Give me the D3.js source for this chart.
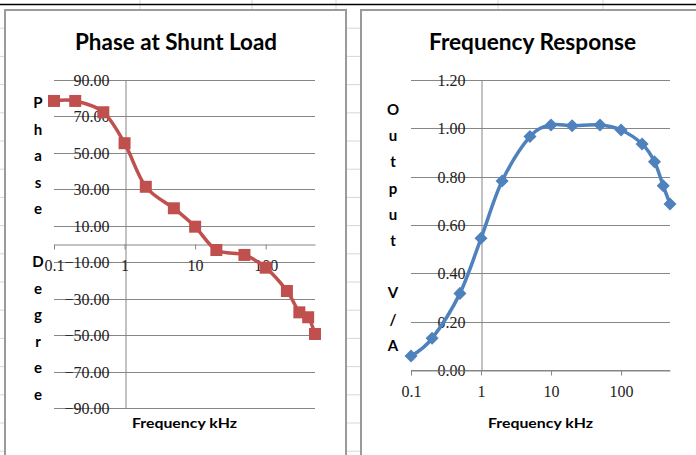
<!DOCTYPE html>
<html><head><meta charset="utf-8">
<script src="https://cdn.jsdelivr.net/npm/d3@7"></script>
<style>body{margin:0;background:#fff}svg{display:block}</style>
</head><body><svg id="c" width="696" height="455"></svg>
<script>
// ---- data ----
const freqs = [0.1, 0.2, 0.5, 1, 2, 5, 10, 20, 50, 100, 200, 300, 400, 500];
const phase = [78.5, 78.5, 72.3, 55.3, 31.4, 19.6, 9.5, -3.3, -6.0, -13.0, -25.8, -37.5, -40.2, -49.4];
const output = [0.058, 0.131, 0.317, 0.545, 0.782, 0.966, 1.014, 1.011, 1.014, 0.993, 0.935, 0.862, 0.762, 0.687];
const phaseTicks = [90, 70, 50, 30, 10, -10, -30, -50, -70, -90];
const outputTicks = [0, 0.2, 0.4, 0.6, 0.8, 1.0, 1.2];
const freqTicks = [0.1, 1, 10, 100];
const chartTitles = ["Phase at Shunt Load", "Frequency Response"];
const xTitle = "Frequency kHz";
const yTitles = ["Phase Degree", "Output V/A"];

const svg = d3.select("#c");
svg.append("rect").attr("width", 696).attr("height", 455).attr("fill", "#fff");

// spreadsheet background bits
const sheet = svg.append("g");
const rowYs = d3.range(1, 17).map(k => 28.2 * k);
rowYs.forEach(y => {
  sheet.append("line").attr("x1", 0).attr("x2", 4).attr("y1", y).attr("y2", y).attr("stroke", "#D0D7E5");
  sheet.append("line").attr("x1", 347).attr("x2", 360).attr("y1", y).attr("y2", y).attr("stroke", "#D0D7E5");
});
[140, 252, 336, 498, 603].forEach(x => {
  sheet.append("line").attr("x1", x).attr("x2", x).attr("y1", 0).attr("y2", 10).attr("stroke", "#D0D7E5");
});
sheet.append("line").attr("x1", 0).attr("x2", 696).attr("y1", 4.5).attr("y2", 4.5).attr("stroke", "#000").attr("stroke-width", 1.5);

// chart frames
svg.append("rect").attr("x", 5).attr("y", 10).attr("width", 341).attr("height", 480)
  .attr("fill", "#fff").attr("stroke", "#9A9A9A").attr("stroke-width", 2);
svg.append("rect").attr("x", 361).attr("y", 10).attr("width", 400).attr("height", 480)
  .attr("fill", "#fff").attr("stroke", "#9A9A9A").attr("stroke-width", 2);

const gridColor = "#868686";
const tickFont = "'Liberation Serif', serif";
const boldFont = "Lato, 'Open Sans', sans-serif";

function drawChart(cfg) {
  const g = svg.append("g");
  const x = d3.scaleLog().domain([0.1, 500]).range(cfg.xRange);
  const y = d3.scaleLinear().domain(cfg.yDomain).range(cfg.yRange);
  const axisY = y(0), axisX = x(1);

  // horizontal gridlines
  g.selectAll(".grid").data(cfg.yTicks).enter().append("line")
    .attr("x1", cfg.xRange[0]).attr("x2", cfg.xRange[1])
    .attr("y1", d => Math.round(y(d)) + 0.5).attr("y2", d => Math.round(y(d)) + 0.5)
    .attr("stroke", gridColor).attr("stroke-width", 1);

  // y axis at x=1
  const ya = g.append("g").attr("transform", `translate(${Math.round(axisX) + 0.5},0)`)
    .call(d3.axisLeft(y).tickValues(cfg.yTicks).tickSize(0).tickPadding(16).tickFormat(d3.format(".2f")));
  ya.select(".domain").attr("stroke", gridColor);
  ya.selectAll("text").attr("font-family", tickFont).attr("font-size", 16)
    .attr("fill", "#222").attr("dy", "0.34em");

  // x axis at y=0
  const xa = g.append("g").attr("transform", `translate(0,${Math.round(axisY) + 0.5})`)
    .call(d3.axisBottom(x).tickValues(freqTicks).tickSizeInner(5).tickSizeOuter(0).tickFormat(d => String(d)));
  xa.select(".domain").attr("stroke", gridColor);
  xa.selectAll("line").attr("stroke", gridColor);
  xa.selectAll("text").attr("font-family", tickFont).attr("font-size", 16)
    .attr("fill", "#222").attr("y", 26).attr("dy", 0);

  // series line
  const line = d3.line().x((d, i) => x(freqs[i])).y(d => y(d)).curve(d3.curveCardinal.tension(0));
  g.append("path").datum(cfg.values).attr("d", line).attr("fill", "none")
    .attr("stroke", cfg.color).attr("stroke-width", 3.5).attr("stroke-linejoin", "round");

  // markers
  g.selectAll(".m").data(cfg.values).enter().append("path")
    .attr("d", d3.symbol(d3.symbolSquare, cfg.markerSize)())
    .attr("transform", (d, i) => `translate(${x(freqs[i])},${y(d)}) rotate(${cfg.markerRot})`)
    .attr("fill", cfg.color);

  // title
  g.append("text").attr("x", cfg.titleX).attr("y", 50).attr("text-anchor", "middle")
    .attr("font-family", boldFont).attr("font-weight", "bold").attr("font-size", 22)
    .attr("textLength", cfg.titleLen).attr("lengthAdjust", "spacingAndGlyphs")
    .attr("fill", "#000").text(cfg.title);

  // x title
  g.append("text").attr("x", cfg.xTitleX).attr("y", 428).attr("text-anchor", "middle")
    .attr("font-family", boldFont).attr("font-weight", "bold").attr("font-size", 14)
    .attr("textLength", 105).attr("lengthAdjust", "spacingAndGlyphs")
    .attr("fill", "#000").text(xTitle);

  // stacked y title
  const letters = cfg.yTitle.split("");
  g.selectAll(".yl").data(letters).enter().append("text")
    .attr("x", cfg.yTitleX).attr("y", (d, i) => cfg.yTitleY + i * cfg.yTitleStep)
    .attr("text-anchor", "middle").attr("font-family", boldFont).attr("font-weight", "bold")
    .attr("font-size", 15).attr("fill", "#000").text(d => d === " " ? "" : d);
}

drawChart({
  xRange: [54, 315], yRange: [408, 80], yDomain: [-90, 90], yTicks: phaseTicks,
  values: phase, color: "#C0504D", markerSize: 144, markerRot: 0,
  title: chartTitles[0], titleX: 176, titleLen: 202, xTitleX: 184.5,
  yTitle: yTitles[0], yTitleX: 38, yTitleY: 108, yTitleStep: 26.5
});
drawChart({
  xRange: [411, 670], yRange: [370, 80], yDomain: [0, 1.2], yTicks: outputTicks,
  values: output, color: "#4F81BD", markerSize: 85, markerRot: 45,
  title: chartTitles[1], titleX: 532.5, titleLen: 207, xTitleX: 540.5,
  yTitle: yTitles[1], yTitleX: 393, yTitleY: 115, yTitleStep: 26.2
});
</script>
</body></html>
